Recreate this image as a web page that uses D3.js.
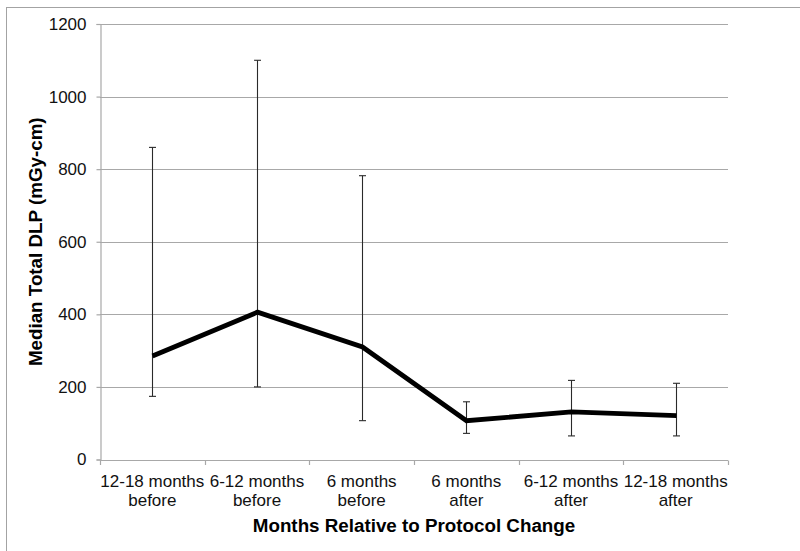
<!DOCTYPE html>
<html>
<head>
<meta charset="utf-8">
<script src="https://cdn.jsdelivr.net/npm/d3@7"></script>
<style>
  html, body { margin: 0; padding: 0; background: #fff; }
  svg { display: block; font-family: "Liberation Sans", Arial, sans-serif; }
</style>
</head>
<body>
<svg id="chart" width="800" height="551"></svg>
<script>
// Median total DLP by period relative to the protocol change, with ranges
const categories = [
  ["12-18 months", "before"],
  ["6-12 months", "before"],
  ["6 months", "before"],
  ["6 months", "after"],
  ["6-12 months", "after"],
  ["12-18 months", "after"]
];
const medianDLP = [285, 406, 310, 107, 131, 121];
const lowDLP    = [174, 200, 107, 72, 65, 65];
const highDLP   = [860, 1100, 782, 159, 218, 210];
const yTicks    = [0, 200, 400, 600, 800, 1000, 1200];

const svg = d3.select("#chart");
const margin = { left: 100, right: 72, top: 24, bottom: 91.5 };
const W = 800, H = 551;

// outer frame
svg.append("rect")
  .attr("x", 6.5).attr("y", 7.5)
  .attr("width", W).attr("height", H)
  .attr("fill", "none").attr("stroke", "#a3a3a3").attr("stroke-width", 1);

const x = d3.scaleBand()
  .domain(d3.range(categories.length))
  .range([margin.left, W - margin.right])
  .paddingInner(0).paddingOuter(0);

const y = d3.scaleLinear()
  .domain([0, 1200])
  .range([H - margin.bottom, margin.top]);

const cx = i => x(i) + x.bandwidth() / 2;

// horizontal gridlines
svg.append("g")
  .selectAll("line")
  .data(yTicks.filter(d => d > 0))
  .join("line")
  .attr("x1", margin.left).attr("x2", W - margin.right)
  .attr("y1", d => Math.round(y(d)) + 0.5).attr("y2", d => Math.round(y(d)) + 0.5)
  .attr("stroke", "#a8a8a8").attr("stroke-width", 1.2);

// y axis
const yAxis = svg.append("g")
  .attr("transform", `translate(${margin.left + 0.5},0)`)
  .call(d3.axisLeft(y).tickValues(yTicks).tickSize(4).tickPadding(10).tickFormat(d3.format("d")));
yAxis.select(".domain").attr("stroke", "#a8a8a8").attr("stroke-width", 1.2);
yAxis.selectAll(".tick line").attr("stroke", "#a8a8a8").attr("stroke-width", 1.2);
yAxis.selectAll(".tick text")
  .attr("font-size", 17).attr("fill", "#111")
  .attr("font-family", "Liberation Sans, Arial, sans-serif");

// x axis with tick marks on band boundaries
const xBase = Math.round(y(0)) + 0.5;
svg.append("line")
  .attr("x1", margin.left).attr("x2", W - margin.right)
  .attr("y1", xBase).attr("y2", xBase)
  .attr("stroke", "#a8a8a8").attr("stroke-width", 1.2);
const bounds = d3.range(categories.length + 1).map(i =>
  i < categories.length ? x(i) : x(i - 1) + x.bandwidth());
svg.append("g").selectAll("line")
  .data(bounds)
  .join("line")
  .attr("x1", d => Math.round(d) + 0.5).attr("x2", d => Math.round(d) + 0.5)
  .attr("y1", xBase).attr("y2", xBase + 4.5)
  .attr("stroke", "#a8a8a8").attr("stroke-width", 1.2);

// category labels (two lines)
const catText = svg.append("g").selectAll("text")
  .data(categories)
  .join("text")
  .attr("x", (d, i) => cx(i))
  .attr("y", 487)
  .attr("text-anchor", "middle")
  .attr("font-size", 17)
  .attr("fill", "#111");
catText.selectAll("tspan")
  .data(d => d)
  .join("tspan")
  .attr("x", function () { return d3.select(this.parentNode).attr("x"); })
  .attr("dy", (d, i) => i === 0 ? 0 : 18.5)
  .text(d => d);

// error bars
const caps = 3.5;
const eb = svg.append("g").attr("stroke", "#2a2a2a").attr("stroke-width", 1.1);
eb.selectAll(".stem")
  .data(medianDLP)
  .join("line")
  .attr("x1", (d, i) => Math.round(cx(i)) + 0.5).attr("x2", (d, i) => Math.round(cx(i)) + 0.5)
  .attr("y1", (d, i) => y(lowDLP[i])).attr("y2", (d, i) => y(highDLP[i]));
eb.selectAll(".capHi")
  .data(highDLP)
  .join("line")
  .attr("x1", (d, i) => Math.round(cx(i)) + 0.5 - caps).attr("x2", (d, i) => Math.round(cx(i)) + 0.5 + caps)
  .attr("y1", d => y(d)).attr("y2", d => y(d));
eb.selectAll(".capLo")
  .data(lowDLP)
  .join("line")
  .attr("x1", (d, i) => Math.round(cx(i)) + 0.5 - caps).attr("x2", (d, i) => Math.round(cx(i)) + 0.5 + caps)
  .attr("y1", d => y(d)).attr("y2", d => y(d));

// median line
const line = d3.line()
  .x((d, i) => Math.round(cx(i)) + 0.5)
  .y(d => y(d));
svg.append("path")
  .datum(medianDLP)
  .attr("d", line)
  .attr("fill", "none")
  .attr("stroke", "#000")
  .attr("stroke-width", 4.8)
  .attr("stroke-linejoin", "miter");

// axis titles
svg.append("text")
  .attr("x", (margin.left + W - margin.right) / 2)
  .attr("y", 531.5)
  .attr("text-anchor", "middle")
  .attr("font-size", 18.8)
  .attr("font-weight", "bold")
  .attr("fill", "#000")
  .text("Months Relative to Protocol Change");

svg.append("text")
  .attr("transform", `translate(41.5,${(y(0) + y(1200)) / 2}) rotate(-90)`)
  .attr("text-anchor", "middle")
  .attr("font-size", 18.8)
  .attr("font-weight", "bold")
  .attr("fill", "#000")
  .text("Median Total DLP (mGy-cm)");
</script>
</body>
</html>
